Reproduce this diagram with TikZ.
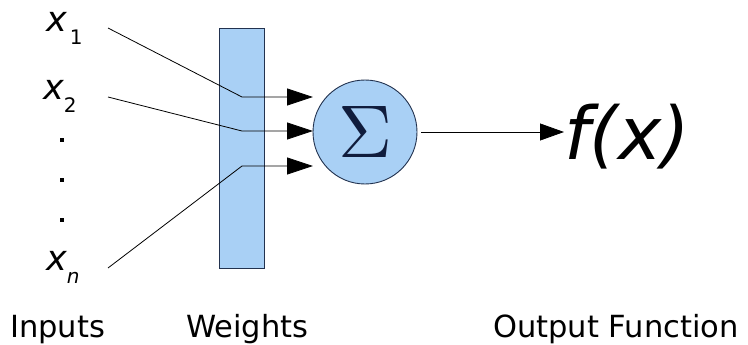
\documentclass[tikz,border=0pt]{standalone}
\usepackage{fontspec}
\setmainfont{DejaVu Sans}
\usetikzlibrary{arrows.meta}
\definecolor{boxfill}{HTML}{A9D0F5}
\definecolor{boxline}{HTML}{22324F}
\definecolor{sigmacol}{HTML}{101C3C}
\newfontfamily\obl{DejaVu Sans Oblique}
\newfontfamily\upr{DejaVu Sans}
\tikzset{
  lbl/.style={inner sep=0pt, anchor=base west},
  inlabel/.style={lbl, font=\obl\fontsize{35}{35}\selectfont},
  caption/.style={lbl, font=\fontsize{30.5}{30.5}\selectfont},
  wire/.style={line width=0.8pt, draw=black},
  inarrow/.style={wire, -{Triangle[length=26pt,width=17pt]}},
  outarrow/.style={wire, -{Triangle[length=24pt,width=17pt]}},
  weightbox/.style={draw=boxline, fill=boxfill, line width=0.9pt},
  dotmark/.style={rectangle, fill=black, inner sep=0pt, minimum size=3.6pt}
}
\newcommand{\subtxt}[1]{\raisebox{-13pt}{\fontsize{20}{20}\selectfont #1}}
\begin{document}
\begin{tikzpicture}[x=1pt,y=-1pt]
\useasboundingbox (0,0) rectangle (748,345);
% weights box
\draw[weightbox] (219,28) rectangle (264,268);
% inputs
\node[inlabel] (x1) at (46,32) {x\kern3pt\subtxt{\upr 1}};
\node[inlabel] (x2) at (43,100) {x\subtxt{\upr 2}};
\node[inlabel] (xn) at (46,270) {x\subtxt{n}};
\node[dotmark] (d1) at (62,140) {};
\node[dotmark] (d2) at (62,180) {};
\node[dotmark] (d3) at (62,220) {};
% wire endpoints
\coordinate (s1) at (108,28);
\coordinate (s2) at (108,97);
\coordinate (sn) at (108,268);
\coordinate (b1) at (242,97);
\coordinate (b2) at (242,131);
\coordinate (bn) at (242,166);
\coordinate (t1) at (313,97);
\coordinate (t2) at (313,131);
\coordinate (tn) at (313,166);
% sum node
\node[circle, weightbox, minimum size=104pt, inner sep=0pt] (sum) at (365,132) {};
\node[inner sep=0pt, text=sigmacol] (sig) at (sum.center) {\resizebox{!}{51pt}{$\Sigma$}};
\draw[inarrow] (s1) -- (b1) -- (t1);
\draw[inarrow] (s2) -- (b2) -- (t2);
\draw[inarrow] (sn) -- (bn) -- (tn);
% output
\node[lbl, font=\obl\fontsize{73}{73}\selectfont] (fx) at (564,160) {f(x)};
\draw[outarrow] (sum.east) ++(4,0) coordinate (o1) -- (fx.west |- sum.center);
% captions
\node[caption] (cin) at (10,337) {Inputs};
\node[caption] (cw) at (186,337) {Weights};
\node[caption] (cout) at (493,337) {Output Function};
\end{tikzpicture}
\end{document}
